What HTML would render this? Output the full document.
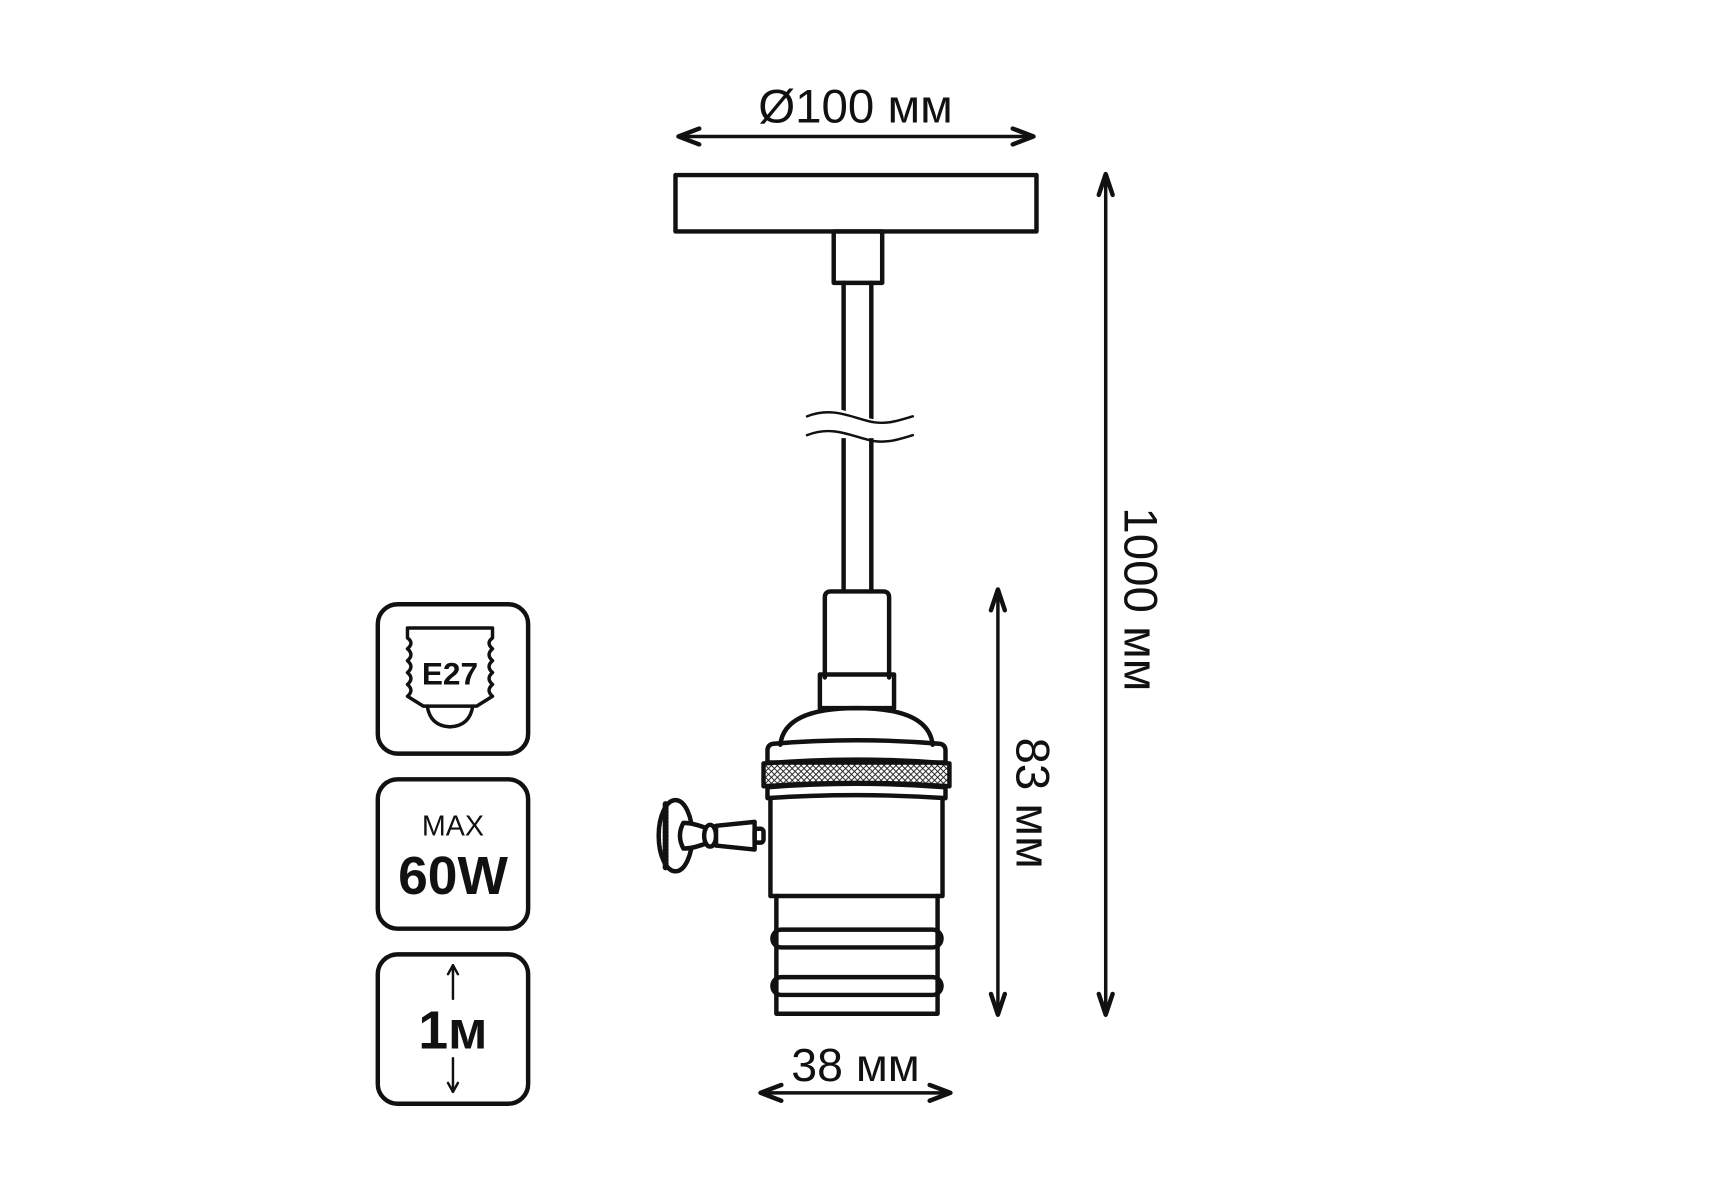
<!DOCTYPE html>
<html><head><meta charset="utf-8"><style>
html,body{margin:0;padding:0;background:#fff;}
svg{display:block}
text{font-family:"Liberation Sans","DejaVu Sans",sans-serif;fill:#111}
</style></head><body>
<svg width="1715" height="1200" viewBox="0 0 1715 1200" xmlns="http://www.w3.org/2000/svg">
<defs>
<pattern id="kn" width="6" height="6" patternUnits="userSpaceOnUse">
<path d="M0,0 L6,6 M6,0 L0,6" stroke="#111" stroke-width="0.9"/>
</pattern>
</defs>
<g transform="scale(0.989)">
<g fill="none" stroke="#111" stroke-width="4.5" stroke-linejoin="round" stroke-linecap="round">
<line x1="686" y1="138" x2="1045" y2="138" stroke-width="3.5"/>
<polyline points="707,130 686,138 707,146"/>
<polyline points="1024,130 1045,138 1024,146"/>
<rect x="683" y="177" width="365" height="57" fill="#fff"/>
<rect x="843" y="234" width="49" height="52"/>
<line x1="853" y1="286" x2="853" y2="598"/>
<line x1="881" y1="286" x2="881" y2="598"/>
<path d="M816,421 C844,407 864,425 884,427 C899,429 909,425 923,421 L923,440 L816,440 Z" fill="#fff" stroke="#fff" stroke-width="6"/>
<path d="M816,421 C844,410 864,424 884,427 C899,429 909,425 923,421" stroke-width="2.5"/>
<path d="M816,440 C844,429 864,443 884,446 C899,448 909,444 923,440" stroke-width="2.5"/>
<path d="M834,685 L834,604 Q834,598 840,598 L893,598 Q899,598 899,604 L899,685"/>
<rect x="829" y="682" width="75" height="34"/>
<path d="M789,753 Q793,716 866,716 Q939,716 943,753"/>
<path d="M776,759 Q776,753 782,752 Q866,745 950,752 Q956,753 956,759 L956,771 L776,771 Z"/>
<path d="M772,772 Q866,764 960,772 L960,795 Q866,788 772,795 Z" fill="url(#kn)"/>
<path d="M776,796 Q866,789 956,796 L956,807 Q866,801 776,807 Z"/>
<path d="M779,807 L779,906 L953,906 L953,807"/>
<path d="M785,906 L785,1025 L948,1025 L948,906"/>
<rect x="781" y="940" width="171" height="18" rx="9"/>
<rect x="781" y="988" width="171" height="18" rx="9"/>
<ellipse cx="683" cy="845" rx="17" ry="36" fill="#fff"/>
<path d="M673,813 L673,877" stroke-width="6" stroke-dasharray="1.5 2"/>
<path d="M691,832 Q701,832 716,838 L716,852 Q701,858 691,858 Q684,845 691,832 Z" fill="#fff"/>
<ellipse cx="718" cy="845" rx="6" ry="11" fill="#fff"/>
<path d="M724,835 L763,831 L763,859 L724,855 Z" fill="#fff"/>
<rect x="763" y="838" width="9" height="14" rx="3"/>
<line x1="1009" y1="596" x2="1009" y2="1026" stroke-width="3.5"/>
<polyline points="1002,617 1009,596 1016,617"/>
<polyline points="1002,1005 1009,1026 1016,1005"/>
<line x1="1118" y1="176" x2="1118" y2="1026" stroke-width="3.5"/>
<polyline points="1111,197 1118,176 1125,197"/>
<polyline points="1111,1005 1118,1026 1125,1005"/>
<line x1="769" y1="1105" x2="961" y2="1105" stroke-width="3.5"/>
<polyline points="790,1097 769,1105 790,1113"/>
<polyline points="940,1097 961,1105 940,1113"/>
<rect x="382" y="611" width="152" height="151" rx="20"/>
<rect x="382" y="788" width="152" height="151" rx="20"/>
<rect x="382" y="965" width="152" height="151" rx="20"/>
<path d="M412,635 L498,635 L498,645 Q491,650 498,656 Q491,662 498,668 Q491,674 498,680 Q491,686 498,692 Q491,698 498,704 L482,714 L428,714 L412,704 Q419,698 412,692 Q419,686 412,680 Q419,674 412,668 Q419,662 412,656 Q419,650 412,645 Z" stroke-width="3.5"/>
<path d="M432,714 Q435,734 455,735 Q475,734 478,714" stroke-width="3.5"/>
<line x1="458" y1="976" x2="458" y2="1010" stroke-width="2.5"/>
<polyline points="453,985 458,976 463,985" stroke-width="2.5"/>
<line x1="458" y1="1070" x2="458" y2="1104" stroke-width="2.5"/>
<polyline points="453,1095 458,1104 463,1095" stroke-width="2.5"/>
</g>
<text x="865" y="124" font-size="48" text-anchor="middle">Ø100 мм</text>
<text x="865" y="1093" font-size="47" text-anchor="middle">38 мм</text>
<text transform="translate(1028,812) rotate(90)" font-size="48" text-anchor="middle">83 мм</text>
<text transform="translate(1137,606) rotate(90)" font-size="48" text-anchor="middle">1000 мм</text>
<text x="455" y="692" font-size="32" font-weight="bold" text-anchor="middle">E27</text>
<text x="458" y="845" font-size="29" text-anchor="middle">MAX</text>
<text x="458" y="904" font-size="54" font-weight="bold" text-anchor="middle">60W</text>
<text x="458" y="1060" font-size="54" font-weight="bold" text-anchor="middle">1м</text>
</g>
</svg>
</body></html>
